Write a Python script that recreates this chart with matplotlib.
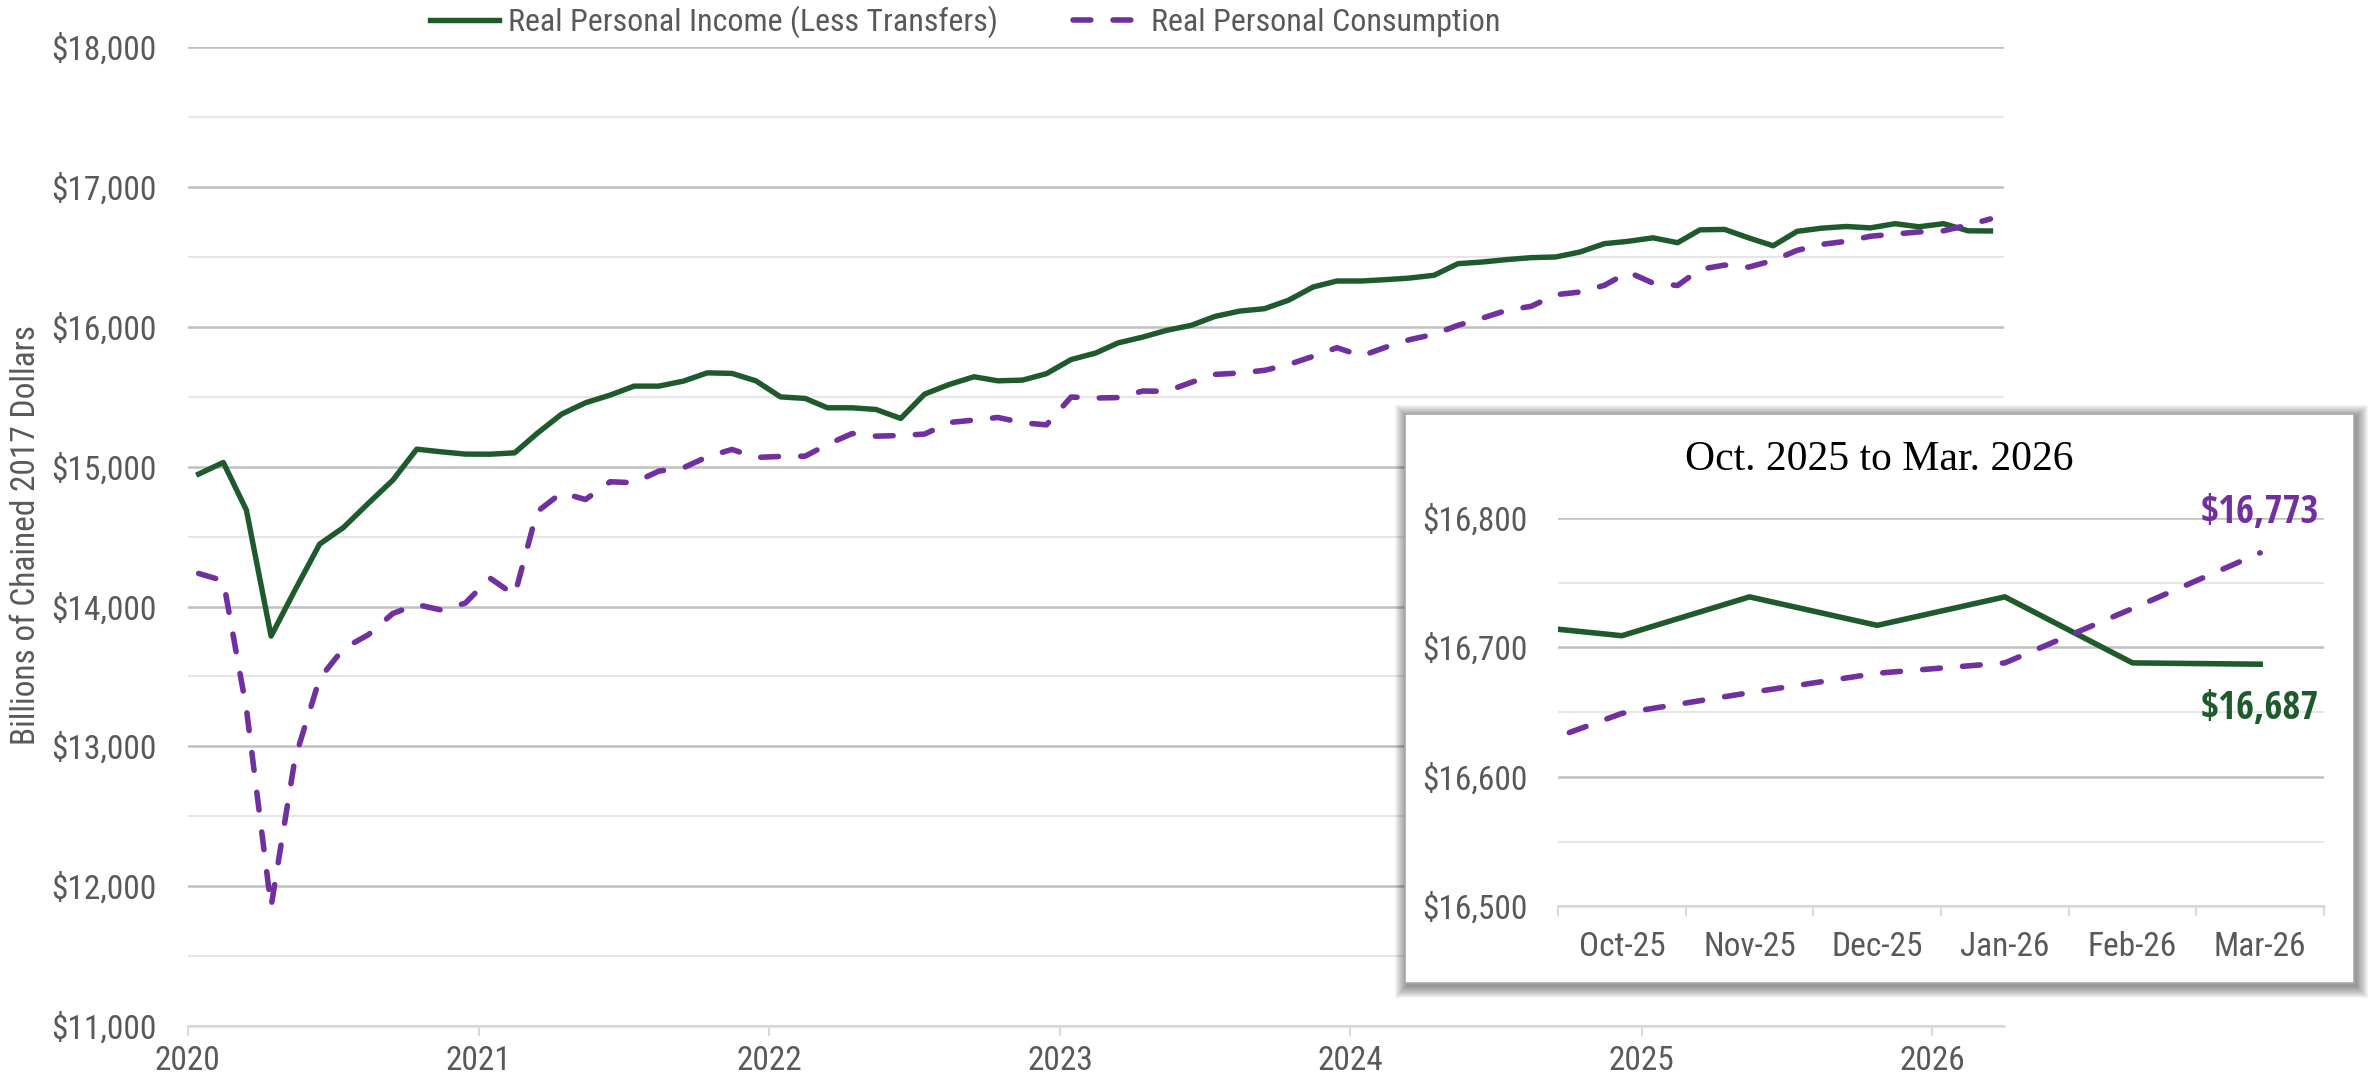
import numpy as np
import pandas as pd
import matplotlib
matplotlib.use("Agg")
import matplotlib.pyplot as plt
import matplotlib.dates as mdates
from matplotlib.ticker import MultipleLocator, FuncFormatter
from matplotlib.patches import Rectangle
from matplotlib.lines import Line2D
from matplotlib import font_manager

# monthly data, Jan 2020 - Mar 2026 (billions of chained 2017 dollars)
income = [14948, 15031, 14690, 13789, 14118, 14447, 14566, 14738, 14905, 15126, 15107, 15091,
          15090, 15100, 15238, 15377, 15458, 15513, 15577, 15577, 15613, 15672, 15668, 15615,
          15500, 15489, 15422, 15422, 15410, 15346, 15520, 15589, 15644, 15615, 15620, 15666,
          15767, 15814, 15886, 15928, 15976, 16012, 16076, 16114, 16131, 16191, 16286, 16329,
          16329, 16339, 16350, 16370, 16453, 16465, 16482, 16496, 16501, 16536, 16596, 16613,
          16638, 16603, 16695, 16698, 16638, 16581, 16684, 16707, 16719, 16709, 16739, 16717,
          16739, 16688, 16687]
consumption = [14237, 14185, 13269, 11853, 12912, 13486, 13700, 13798, 13951, 14015, 13975, 14025,
               14204, 14082, 14678, 14814, 14766, 14893, 14886, 14969, 14993, 15072, 15124, 15067,
               15074, 15076, 15160, 15238, 15219, 15224, 15234, 15317, 15334, 15353, 15315, 15300,
               15499, 15492, 15495, 15542, 15540, 15604, 15661, 15671, 15690, 15731, 15790, 15852,
               15793, 15857, 15909, 15948, 16012, 16064, 16119, 16148, 16231, 16250, 16298, 16393,
               16314, 16297, 16412, 16443, 16428, 16476, 16548, 16591, 16613, 16649, 16665, 16680,
               16688, 16730, 16773]
months = pd.date_range("2020-01-01", periods=len(income), freq="MS") + pd.Timedelta(days=14)

# inset: Sep-25 (clipped at left edge) through Mar-26
inset_labels = ["Oct-25", "Nov-25", "Dec-25", "Jan-26", "Feb-26", "Mar-26"]
inset_income = income[-7:]
inset_consumption = consumption[-7:]

GREEN = "#1F5A2D"
PURPLE = "#7030A0"
GRAY_TXT = "#595959"
DASH = (3.2, 4.0)


# look for an installed condensed sans face (the chart uses a narrow font)
def find_condensed():
    reg, bold = None, None
    for pref in ["Noto Sans", "Open Sans", "Roboto", "DejaVu Sans", "Liberation Sans Narrow"]:
        for f in font_manager.fontManager.ttflist:
            st = str(f.stretch)
            narrow = st in ("condensed", "semi-condensed", "500") or "Narrow" in f.name \
                or "Condensed" in f.name or "Condensed" in f.fname
            if not narrow or f.style != "normal" or "Extra" in f.fname:
                continue
            if not (f.name.startswith(pref)):
                continue
            w = f.weight if isinstance(f.weight, int) else 400
            if w == 400 and reg is None and "SemiCondensed" not in f.fname:
                reg = f.fname
            if w == 700 and bold is None and "SemiCondensed" not in f.fname:
                bold = f.fname
        if reg:
            return reg, bold or reg
    return None


cond = find_condensed()
if cond:
    FP = font_manager.FontProperties(fname=cond[0], size=24)
    FPL = font_manager.FontProperties(fname=cond[0], size=23)
    FPB = font_manager.FontProperties(fname=cond[1], size=28)
    FS = 23
else:
    FP = font_manager.FontProperties(family="Liberation Sans", size=20.5)
    FPL = FP
    FPB = font_manager.FontProperties(family="Liberation Sans", weight="bold", size=24.5)
    FS = 20.5
plt.rcParams["font.family"] = ["Liberation Sans", "DejaVu Sans"]

W, H = 2371, 1082
fig = plt.figure(figsize=(W / 100, H / 100), dpi=100)


def fx(px):
    return px / W


def fy(py):
    return 1 - py / H


dollars = FuncFormatter(lambda v, p: f"${v:,.0f}")

# ---- main chart ----
ax = fig.add_axes([fx(187.5), fy(1026), fx(2004) - fx(187.5), fy(47.4) - fy(1026)])
ax.plot(months, income, color=GREEN, lw=3.9, zorder=3)
ax.plot(months, consumption, color=PURPLE, lw=4.0, dashes=DASH,
        dash_capstyle="round", zorder=3)

ax.set_xlim(pd.Timestamp("2020-01-01"), pd.Timestamp("2026-04-01"))
ax.set_ylim(11000, 18000)
ax.yaxis.set_major_locator(MultipleLocator(1000))
ax.yaxis.set_minor_locator(MultipleLocator(500))
ax.yaxis.set_major_formatter(dollars)
ax.xaxis.set_major_locator(mdates.YearLocator())
ax.xaxis.set_major_formatter(mdates.DateFormatter("%Y"))
ax.grid(axis="y", which="major", color="#C0C0C0", lw=1.8)
ax.grid(axis="y", which="minor", color="#E6E6E6", lw=1.5)
ax.set_axisbelow(True)
for s in ["left", "right", "top"]:
    ax.spines[s].set_visible(False)
ax.spines["bottom"].set_color("#D9D9D9")
ax.spines["bottom"].set_linewidth(1.8)
ax.tick_params(axis="y", which="both", length=0, pad=22, labelcolor=GRAY_TXT)
ax.tick_params(axis="x", which="major", length=7, width=1.4, color="#D9D9D9", pad=7,
               labelcolor=GRAY_TXT)
for lab in ax.get_xticklabels() + ax.get_yticklabels():
    lab.set_fontproperties(FP)
fig.text(fx(26), fy(535), "Billions of Chained 2017 Dollars", rotation=90, ha="center",
         va="center", fontproperties=FP, color=GRAY_TXT)

handles = [Line2D([], [], color=GREEN, lw=3.9),
           Line2D([], [], color=PURPLE, lw=4.0, dashes=DASH, dash_capstyle="round")]
fig.legend(handles, ["Real Personal Income (Less Transfers)", "Real Personal Consumption"],
           loc="center left", bbox_to_anchor=(fx(430), fy(22)), ncol=2, frameon=False,
           prop=FPL, labelcolor=GRAY_TXT, borderpad=0, borderaxespad=0,
           handlelength=50 / FS, handletextpad=6 / FS, columnspacing=54 / FS)

# ---- inset frame with soft shadow ----
x0, y0, x1, y1 = 1405, 414, 2354, 983
for k in range(12, 0, -1):
    fig.patches.append(Rectangle((fx(x0 - k + 2), fy(y1 + k + 3)),
                                 (x1 - x0 + 2 * k) / W, (y1 - y0 + 2 * k) / H,
                                 transform=fig.transFigure, facecolor="black",
                                 alpha=0.04, edgecolor="none", zorder=2))
fig.patches.append(Rectangle((fx(x0), fy(y1)), (x1 - x0) / W, (y1 - y0) / H,
                             transform=fig.transFigure, facecolor="white",
                             edgecolor="#A8A8A8", lw=1.2, zorder=3))
fig.text(fx((x0 + x1) / 2), fy(460), "Oct. 2025 to Mar. 2026", ha="center", va="center",
         fontsize=30, family="Liberation Serif", color="black", zorder=6)

# ---- inset chart ----
axi = fig.add_axes([fx(1558), fy(906.3), fx(2324) - fx(1558), fy(517.9) - fy(906.3)], zorder=5)
axi.patch.set_alpha(0)
pos = np.arange(-1, len(inset_labels))
axi.plot(pos, inset_income, color=GREEN, lw=4.0, zorder=3)
axi.plot(pos, inset_consumption, color=PURPLE, lw=4.0, dashes=DASH,
         dash_capstyle="round", zorder=3)
axi.set_xlim(-0.5, len(inset_labels) - 0.5)
axi.set_ylim(16500, 16800)
axi.yaxis.set_major_locator(MultipleLocator(100))
axi.yaxis.set_minor_locator(MultipleLocator(50))
axi.yaxis.set_major_formatter(dollars)
axi.set_xticks(np.arange(len(inset_labels)), inset_labels)
axi.set_xticks(np.arange(-0.5, len(inset_labels)), minor=True)
axi.grid(axis="y", which="major", color="#C0C0C0", lw=1.8)
axi.grid(axis="y", which="minor", color="#E6E6E6", lw=1.5)
axi.set_axisbelow(True)
for s in ["left", "right", "top"]:
    axi.spines[s].set_visible(False)
axi.spines["bottom"].set_color("#D9D9D9")
axi.spines["bottom"].set_linewidth(1.8)
axi.tick_params(axis="y", which="both", length=0, pad=22, labelcolor=GRAY_TXT)
axi.tick_params(axis="x", which="major", length=0, pad=18, labelcolor=GRAY_TXT)
axi.tick_params(axis="x", which="minor", length=7, width=1.4, color="#D9D9D9")
for lab in axi.get_xticklabels() + axi.get_yticklabels():
    lab.set_fontproperties(FP)

last = len(inset_labels) - 1
axi.annotate(f"${inset_consumption[-1]:,.0f}", xy=(last, inset_consumption[-1]),
             xytext=(0, 29), textcoords="offset points", ha="center", va="center",
             fontproperties=FPB, color=PURPLE, annotation_clip=False)
axi.annotate(f"${inset_income[-1]:,.0f}", xy=(last, inset_income[-1]),
             xytext=(0, -32), textcoords="offset points", ha="center", va="center",
             fontproperties=FPB, color=GREEN, annotation_clip=False)

fig.savefig("out.png", dpi=100, facecolor="white")
